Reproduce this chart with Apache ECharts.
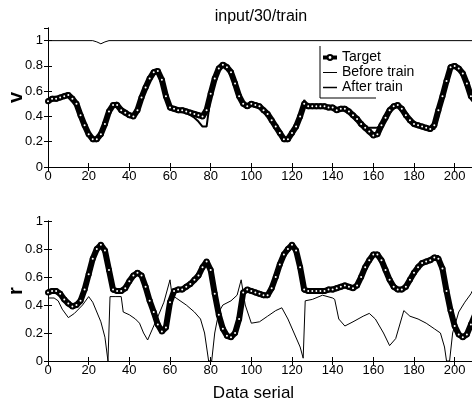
<!DOCTYPE html>
<html>
<head>
<meta charset="utf-8">
<script src="https://cdn.jsdelivr.net/npm/echarts@6/dist/echarts.min.js"></script>
<style>
  html, body { margin: 0; padding: 0; background: #fff; }
  #chart { width: 472px; height: 406px; }
</style>
</head>
<body>
<div id="chart"></div>
<script>
// sample positions (data serial) for target / after train
const serial = [0,2,4,6,8,10,12,14,16,18,20,22,24,26,28,30,32,34,36,38,
  40,42,44,46,48,50,52,54,56,58,60,62,64,66,68,70,72,74,76,78,
  80,82,84,86,88,90,92,94,96,98,100,102,104,106,108,110,112,114,116,118,
  120,122,124,126,128,130,132,134,136,138,140,142,144,146,148,150,152,154,156,158,
  160,162,164,166,168,170,172,174,176,178,180,182,184,186,188,190,192,194,196,198,
  200,202,204,206,208,210];

// top panel: v
const vTarget = [0.52,0.54,0.54,0.55,0.56,0.57,0.54,0.50,0.41,0.33,
  0.26,0.22,0.22,0.26,0.34,0.44,0.49,0.49,0.45,0.43,
  0.41,0.40,0.45,0.55,0.63,0.70,0.75,0.76,0.69,0.56,
  0.47,0.46,0.45,0.45,0.44,0.43,0.42,0.41,0.40,0.45,
  0.58,0.70,0.78,0.81,0.79,0.75,0.66,0.56,0.50,0.48,
  0.50,0.49,0.48,0.45,0.42,0.37,0.32,0.27,0.22,0.22,
  0.27,0.32,0.40,0.50,0.48,0.48,0.48,0.48,0.48,0.47,
  0.47,0.45,0.46,0.46,0.44,0.41,0.38,0.34,0.31,0.28,
  0.25,0.26,0.33,0.39,0.45,0.48,0.49,0.46,0.41,0.37,
  0.34,0.33,0.32,0.31,0.30,0.33,0.45,0.56,0.68,0.79,
  0.80,0.78,0.74,0.66,0.56,0.52];
const vAfter = [0.52,0.54,0.54,0.55,0.56,0.57,0.54,0.50,0.41,0.33,
  0.26,0.22,0.22,0.26,0.34,0.45,0.50,0.51,0.46,0.43,
  0.41,0.39,0.44,0.55,0.63,0.70,0.75,0.76,0.69,0.55,
  0.46,0.46,0.45,0.44,0.43,0.41,0.39,0.36,0.32,0.32,
  0.56,0.70,0.78,0.81,0.79,0.75,0.66,0.56,0.50,0.48,
  0.50,0.49,0.48,0.45,0.42,0.37,0.32,0.27,0.22,0.22,
  0.27,0.32,0.42,0.53,0.48,0.48,0.48,0.48,0.48,0.47,
  0.47,0.45,0.46,0.46,0.44,0.41,0.38,0.34,0.31,0.31,
  0.31,0.31,0.34,0.40,0.45,0.48,0.50,0.47,0.41,0.37,
  0.34,0.33,0.32,0.31,0.31,0.30,0.40,0.55,0.68,0.79,
  0.81,0.78,0.74,0.66,0.56,0.52];
const vBeforeX = [0,22,24,26,28,30,210];
const vBefore = [1,1,0.99,0.975,0.99,1,1];

// bottom panel: r
const rTarget = [0.49,0.50,0.50,0.48,0.44,0.41,0.39,0.40,0.43,0.51,
  0.62,0.73,0.80,0.83,0.79,0.65,0.51,0.50,0.50,0.52,
  0.57,0.61,0.63,0.61,0.53,0.43,0.35,0.26,0.21,0.24,
  0.42,0.50,0.51,0.51,0.53,0.55,0.58,0.61,0.67,0.71,
  0.65,0.48,0.33,0.23,0.18,0.17,0.20,0.30,0.49,0.51,
  0.50,0.49,0.48,0.47,0.47,0.52,0.60,0.69,0.76,0.80,
  0.83,0.79,0.67,0.51,0.50,0.50,0.50,0.50,0.50,0.51,
  0.51,0.52,0.53,0.54,0.53,0.52,0.54,0.60,0.67,0.72,
  0.76,0.76,0.72,0.65,0.58,0.53,0.51,0.51,0.53,0.58,
  0.63,0.67,0.70,0.71,0.72,0.74,0.73,0.66,0.50,0.36,
  0.25,0.19,0.17,0.19,0.26,0.33];
const rAfter = [0.49,0.50,0.50,0.48,0.44,0.41,0.39,0.40,0.43,0.51,
  0.62,0.73,0.80,0.83,0.79,0.65,0.51,0.50,0.50,0.52,
  0.57,0.61,0.63,0.61,0.53,0.43,0.35,0.26,0.21,0.24,
  0.45,0.50,0.51,0.51,0.53,0.55,0.58,0.61,0.67,0.71,
  0.65,0.48,0.33,0.23,0.18,0.17,0.20,0.30,0.49,0.51,
  0.50,0.49,0.48,0.47,0.47,0.52,0.60,0.69,0.76,0.80,
  0.83,0.79,0.67,0.51,0.50,0.50,0.50,0.50,0.50,0.51,
  0.51,0.52,0.53,0.54,0.53,0.52,0.54,0.60,0.67,0.72,
  0.76,0.76,0.72,0.65,0.58,0.53,0.51,0.51,0.53,0.58,
  0.63,0.67,0.70,0.71,0.72,0.75,0.75,0.66,0.50,0.36,
  0.25,0.19,0.17,0.19,0.26,0.33];
const rBeforeX = [0,3,5,7,10,13,17,20,22,24,26,28,29.5,30.5,33,36,37,40,43,45,
  47,49,52,55,57,60,61,63,68,72,75,77,79,80.5,82,84,86,90,93,95,
  97,100,104,108,112,115,118,121,124,125.5,126.5,130,135,140,141,143,146,150,155,158,
  161,165,168,171,175,178,182,186,190,193,195,196,197.5,199,202,205,208,210];
const rBefore = [0.45,0.45,0.43,0.37,0.31,0.34,0.40,0.46,0.42,0.35,
  0.28,0.17,0.0,0.46,0.46,0.46,0.35,0.33,0.30,0.27,
  0.20,0.15,0.25,0.35,0.42,0.58,0.47,0.45,0.40,0.35,
  0.30,0.20,0.0,0.0,0.20,0.35,0.40,0.43,0.47,0.58,
  0.40,0.27,0.28,0.32,0.36,0.38,0.30,0.20,0.10,0.02,
  0.43,0.44,0.47,0.45,0.44,0.30,0.25,0.28,0.32,0.34,
  0.30,0.20,0.11,0.16,0.36,0.32,0.30,0.27,0.23,0.20,
  0.10,0.0,0.0,0.20,0.35,0.42,0.48,0.54];

const pairs = (xs, ys) => xs.map((x, i) => [x, ys[i]]);

const tickFont = { color: "#000", fontSize: 13, fontFamily: "Liberation Sans Narrow, Liberation Sans, sans-serif" };
const axisBlack = { lineStyle: { color: "#000", width: 1 } };

function bottomX(gridIndex, extra) {
  return Object.assign({
    type: "value", gridIndex: gridIndex, min: 0, max: 210, interval: 20,
    axisLine: axisBlack, axisTick: { inside: true, length: 4, lineStyle: { color: "#000" } },
    axisLabel: Object.assign({ margin: 3, showMaxLabel: false }, tickFont),
    splitLine: { show: false }
  }, extra || {});
}
function topX(gridIndex) {
  return {
    type: "value", gridIndex: gridIndex, position: "top", min: 0, max: 210, interval: 20,
    axisLine: axisBlack, axisTick: { inside: true, length: 4, lineStyle: { color: "#000" } },
    axisLabel: { show: false }, splitLine: { show: false }
  };
}
function leftY(gridIndex, max, name) {
  return {
    type: "value", gridIndex: gridIndex, min: 0, max: max, interval: 0.2,
    name: name, nameLocation: "middle", nameGap: 22, nameRotate: 90, nameMoveOverlap: false,
    nameTextStyle: { color: "#000", fontSize: 20, fontWeight: "bold", fontFamily: "Liberation Sans" },
    axisLine: axisBlack, axisTick: { inside: true, length: 4, lineStyle: { color: "#000" } },
    axisLabel: Object.assign({ margin: 5, showMaxLabel: max === 1 }, tickFont),
    splitLine: { show: false }
  };
}
function rightY(gridIndex, max) {
  return {
    type: "value", gridIndex: gridIndex, position: "right", min: 0, max: max, interval: 0.2,
    axisLine: axisBlack, axisTick: { inside: true, length: 4, lineStyle: { color: "#000" } },
    axisLabel: { show: false }, splitLine: { show: false }
  };
}

// thick black band with small hollow rings, like the o-marker chain
function targetSeries(idx, data) {
  return {
    name: "Target", type: "line", xAxisIndex: idx, yAxisIndex: idx, data: data,
    symbol: "emptyCircle", symbolSize: 4, showSymbol: true, z: 4,
    lineStyle: { color: "#000", width: 6 },
    itemStyle: { color: "#000", borderColor: "#000", borderWidth: 1 }
  };
}
function plainSeries(name, idx, data, width, z) {
  return {
    name: name, type: "line", xAxisIndex: idx, yAxisIndex: idx, data: data,
    symbol: "none", z: z,
    lineStyle: { color: "#000", width: width }, itemStyle: { color: "#000" }
  };
}

const chart = echarts.init(document.getElementById("chart"));
chart.setOption({
  animation: false,
  backgroundColor: "#fff",
  title: {
    text: "input/30/train", left: 256, top: 4, textAlign: "center",
    textStyle: { color: "#000", fontSize: 16, fontWeight: "normal", fontFamily: "Liberation Sans" }
  },
  legend: {
    data: [
      { name: "Target", lineStyle: { width: 4 } },
      { name: "Before train", itemStyle: { opacity: 0 }, lineStyle: { width: 1 } },
      { name: "After train", itemStyle: { opacity: 0 }, lineStyle: { width: 1.5 } }
    ],
    orient: "vertical", left: 320, top: 48,
    itemWidth: 14, itemHeight: 6, itemGap: 0, itemTextGap: 3,
    padding: [2, 4, 2, 1],
    textStyle: { color: "#000", fontSize: 14, lineHeight: 15, fontFamily: "Liberation Sans" }
  },
  graphic: [{
    type: "polyline", z: 10, silent: true,
    shape: { points: [[320, 46], [320, 98], [376, 98]] },
    style: { stroke: "#000", lineWidth: 1, fill: null }
  }],
  grid: [
    { left: 48, top: 28, right: -3, height: 139, outerBoundsMode: "none" },
    { left: 48, top: 221, right: -3, height: 140, outerBoundsMode: "none" }
  ],
  xAxis: [
    bottomX(0), bottomX(1, {
      name: "Data serial", nameLocation: "middle", nameGap: 24, nameMoveOverlap: false,
      nameTextStyle: { color: "#000", fontSize: 17, fontFamily: "Liberation Sans", padding: [0, 16, 0, 0] }
    }),
    topX(0), topX(1)
  ],
  yAxis: [leftY(0, 1.1, "v"), leftY(1, 1, "r"), rightY(0, 1.1), rightY(1, 1)],
  series: [
    plainSeries("Before train", 0, pairs(vBeforeX, vBefore), 1, 2),
    plainSeries("After train", 0, pairs(serial, vAfter), 2, 3),
    targetSeries(0, pairs(serial, vTarget)),
    plainSeries("Before train", 1, pairs(rBeforeX, rBefore), 1, 2),
    plainSeries("After train", 1, pairs(serial, rAfter), 2, 3),
    targetSeries(1, pairs(serial, rTarget))
  ]
});
</script>
</body>
</html>
